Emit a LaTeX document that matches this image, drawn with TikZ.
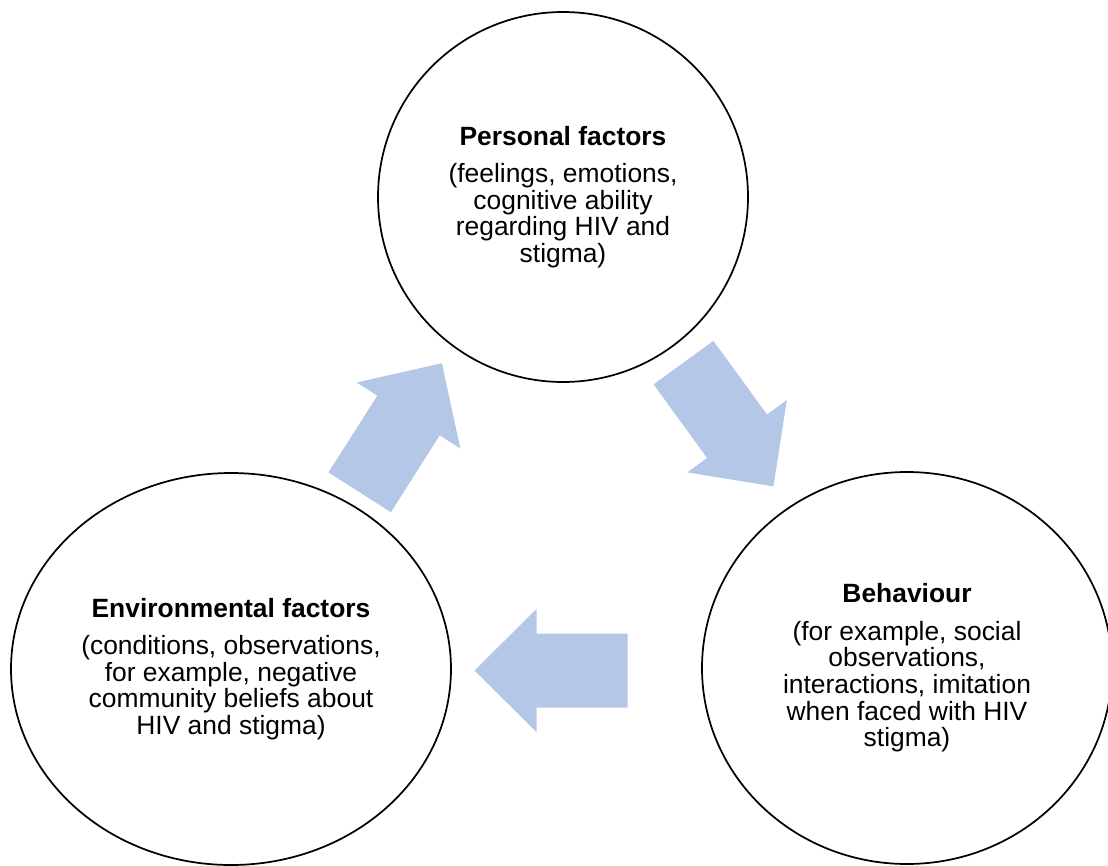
\documentclass[tikz,border=0pt]{standalone}
\usepackage{fontspec}
\setmainfont{Liberation Sans}
\usepackage{tikz}
\usetikzlibrary{shapes.geometric}
\definecolor{arrowblue}{RGB}{180,199,231}

\begin{document}
\begin{tikzpicture}[x=0.75pt, y=-0.75pt,
    factor/.style={ellipse, draw=black, line width=1.3pt, inner sep=0pt,
                   align=center, font=\fontsize{19.8}{20}\selectfont},
    blockarrow/.pic={\fill[arrowblue] (-76.5,-37) -- (14.5,-37) -- (14.5,-61.5)
                     -- (76.5,0) -- (14.5,61.5) -- (14.5,37) -- (-76.5,37) -- cycle;}
  ]
    \useasboundingbox (0,0) rectangle (1108,865);

    \node[factor, minimum width=277.5pt, minimum height=277.5pt] (personal) at (563,197)
        {\textbf{Personal factors}\\[8pt] (feelings, emotions,\\ cognitive ability\\ regarding HIV and\\ stigma)};
    \node[factor, minimum width=330pt, minimum height=294pt] (environment) at (231,669)
        {\textbf{Environmental factors}\\[8pt] (conditions, observations,\\ for example, negative\\ community beliefs about\\ HIV and stigma)};
    \node[factor, minimum width=307.5pt, minimum height=294pt] (behaviour) at (907,668)
        {\textbf{Behaviour}\\[8pt] (for example, social\\ observations,\\ interactions, imitation\\ when faced with HIV\\ stigma)};

    \pic[rotate=57.5] (envtopers) at (400.75,427.75) {blockarrow};
    \pic[rotate=-54] (perstobeh) at (728.5,424.5) {blockarrow};
    \pic[rotate=180] (behtoenv) at (551,670.5) {blockarrow};
\end{tikzpicture}
\end{document}
